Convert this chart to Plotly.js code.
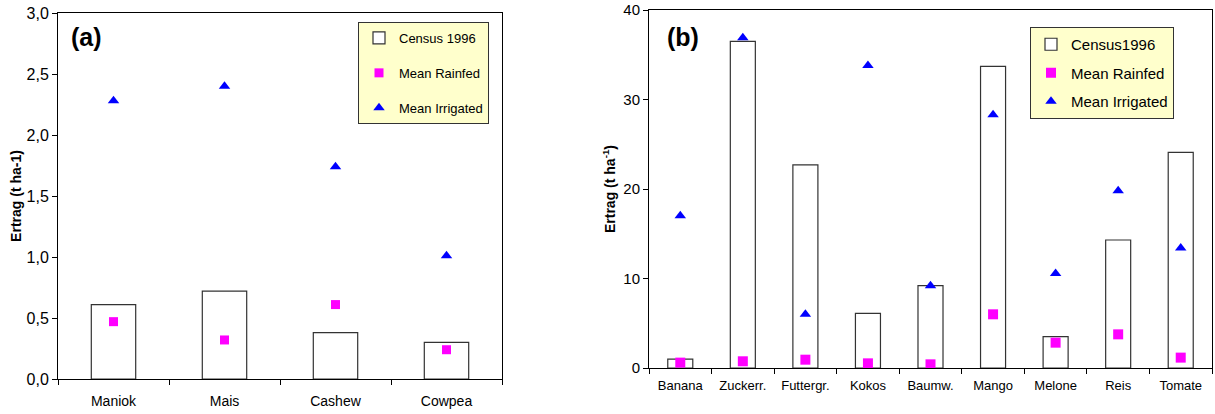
<!DOCTYPE html>
<html>
<head>
<meta charset="utf-8">
<script src="https://cdn.plot.ly/plotly-3.0.1.min.js"></script>
<style>
html,body{margin:0;padding:0;background:#fff;}
#chart{width:1215px;height:414px;}
</style>
</head>
<body>
<div id="chart"></div>
<script>
// ---- data (a) ----
const catsA = ['Maniok', 'Mais', 'Cashew', 'Cowpea'];
const censusA = [0.61, 0.72, 0.38, 0.30];
const rainfedA = [0.47, 0.32, 0.61, 0.24];
const irrigatedA = [2.28, 2.40, 1.74, 1.01];
const yTicksA = [0, 0.5, 1.0, 1.5, 2.0, 2.5, 3.0];

// ---- data (b) ----
const catsB = ['Banana', 'Zuckerr.', 'Futtergr.', 'Kokos', 'Baumw.', 'Mango', 'Melone', 'Reis', 'Tomate'];
const censusB = [1.0, 36.5, 22.7, 6.1, 9.2, 33.7, 3.5, 14.3, 24.1];
const rainfedB = [0.6, 0.75, 0.93, 0.52, 0.41, 6.0, 2.83, 3.76, 1.16];
const irrigatedB = [17.0, 36.9, 6.0, 33.8, 9.2, 28.3, 10.55, 19.8, 13.4];
const yTicksB = [0, 10, 20, 30, 40];

const seriesNames = ['Census 1996', 'Mean Rainfed', 'Mean Irrigated'];
const seriesNamesB = ['Census1996', 'Mean Rainfed', 'Mean Irrigated'];

const FONT = 'Liberation Sans, Arial, sans-serif';
const W = 1215, H = 414;
const px = v => v / W;
const py = v => 1 - v / H;

const traces = [
  {type: 'bar', x: catsA, y: censusA, name: seriesNames[0], xaxis: 'x', yaxis: 'y',
   marker: {color: '#ffffff', line: {color: '#333333', width: 1.2}},
   legend: 'legend', legendgroup: 'a1'},
  {type: 'scatter', mode: 'markers', x: catsA, y: rainfedA, name: seriesNames[1], xaxis: 'x', yaxis: 'y',
   marker: {symbol: 'square', size: 9, color: '#ff00ff'},
   legend: 'legend', legendgroup: 'a2'},
  {type: 'scatter', mode: 'markers', x: catsA, y: irrigatedA, name: seriesNames[2], xaxis: 'x', yaxis: 'y',
   marker: {symbol: 'triangle-up', size: 10, color: '#0000ff'},
   legend: 'legend', legendgroup: 'a3'},

  {type: 'bar', x: catsB, y: censusB, name: seriesNamesB[0], xaxis: 'x2', yaxis: 'y2',
   marker: {color: '#ffffff', line: {color: '#333333', width: 1.2}},
   legend: 'legend2', legendgroup: 'b1'},
  {type: 'scatter', mode: 'markers', x: catsB, y: rainfedB, name: seriesNamesB[1], xaxis: 'x2', yaxis: 'y2',
   marker: {symbol: 'square', size: 10, color: '#ff00ff'},
   legend: 'legend2', legendgroup: 'b2'},
  {type: 'scatter', mode: 'markers', x: catsB, y: irrigatedB, name: seriesNamesB[2], xaxis: 'x2', yaxis: 'y2',
   marker: {symbol: 'triangle-up', size: 10, color: '#0000ff'},
   legend: 'legend2', legendgroup: 'b3'}
];

const layout = {
  width: W, height: H,
  margin: {l: 0, r: 0, t: 0, b: 0},
  paper_bgcolor: '#ffffff', plot_bgcolor: '#ffffff',
  separators: ', ',
  bargap: 0.6,
  font: {family: FONT, color: '#000000'},
  xaxis: {
    domain: [px(58), px(502)], anchor: 'y',
    type: 'category', range: [-0.5, catsA.length - 0.5],
    showline: true, linecolor: '#000000', linewidth: 1, mirror: true,
    ticks: 'outside', tickson: 'boundaries', ticklen: 5, tickcolor: '#000000',
    showgrid: false, zeroline: false, ticklabelstandoff: 9,
    tickfont: {family: FONT, size: 14, color: '#000'}
  },
  yaxis: {
    domain: [py(379), py(13)], anchor: 'x',
    range: [0, 3], tickvals: yTicksA, tickformat: '.1f',
    showline: true, linecolor: '#000000', linewidth: 1, mirror: true,
    ticks: 'outside', ticklen: 5, tickcolor: '#000000',
    showgrid: false, zeroline: false,
    tickfont: {family: FONT, size: 16, color: '#000'},
    title: {text: '<b>Ertrag (t ha-1)</b>', font: {family: FONT, size: 14}, standoff: 1}
  },
  xaxis2: {
    domain: [px(649), px(1212)], anchor: 'y2',
    type: 'category', range: [-0.5, catsB.length - 0.5],
    showline: true, linecolor: '#000000', linewidth: 1, mirror: true,
    ticks: 'outside', tickson: 'boundaries', ticklen: 5, tickcolor: '#000000',
    showgrid: false, zeroline: false, ticklabelstandoff: 5,
    tickfont: {family: FONT, size: 13, color: '#000'}
  },
  yaxis2: {
    domain: [py(368), py(10)], anchor: 'x2',
    range: [0, 40], tickvals: yTicksB,
    showline: true, linecolor: '#000000', linewidth: 1, mirror: true,
    ticks: 'outside', ticklen: 5, tickcolor: '#000000',
    showgrid: false, zeroline: false,
    tickfont: {family: FONT, size: 15, color: '#000'},
    title: {text: '<b>Ertrag (t ha<sup>-1</sup>)</b>', font: {family: FONT, size: 14}, standoff: 4}
  },
  legend: {
    x: px(358), y: py(22), xanchor: 'left', yanchor: 'top',
    bgcolor: '#ffffcc', bordercolor: '#333333', borderwidth: 1,
    traceorder: 'grouped', tracegroupgap: 15,
    font: {family: FONT, size: 13, color: '#000'}
  },
  legend2: {
    x: px(1030), y: py(27), xanchor: 'left', yanchor: 'top',
    bgcolor: '#ffffcc', bordercolor: '#333333', borderwidth: 1,
    traceorder: 'grouped', tracegroupgap: 6,
    font: {family: FONT, size: 15, color: '#000'}
  },
  annotations: [
    {text: '<b>(a)</b>', xref: 'paper', yref: 'paper', x: px(69), y: py(37),
     xanchor: 'left', yanchor: 'middle', showarrow: false, font: {family: FONT, size: 25}},
    {text: '<b>(b)</b>', xref: 'paper', yref: 'paper', x: px(665), y: py(37),
     xanchor: 'left', yanchor: 'middle', showarrow: false, font: {family: FONT, size: 25}}
  ]
};

Plotly.newPlot('chart', traces, layout, {staticPlot: true, displayModeBar: false});
</script>
</body>
</html>
